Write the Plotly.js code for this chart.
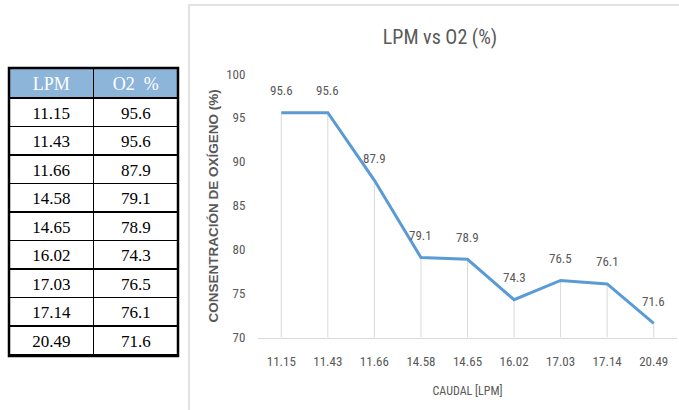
<!DOCTYPE html>
<html>
<head>
<meta charset="utf-8">
<script src="https://cdn.plot.ly/plotly-3.0.1.min.js"></script>
<style>
html,body{margin:0;padding:0;background:#fff;}
#chart{width:679px;height:410px;}
</style>
</head>
<body>
<div id="chart"></div>
<script>
// Data
const lpm = [11.15, 11.43, 11.66, 14.58, 14.65, 16.02, 17.03, 17.14, 20.49];
const o2 = [95.6, 95.6, 87.9, 79.1, 78.9, 74.3, 76.5, 76.1, 71.6];
const tableHeaders = ['LPM', 'O2  %'];
const yBase = 70;

const cats = lpm.map(v => v.toFixed(2));
const chartFont = 'Liberation Sans Narrow, Roboto Condensed, Arial Narrow, Liberation Sans, sans-serif';
const gray = '#595959';

const W = 679, H = 410;
const px = v => v / W;
const py = v => 1 - v / H;

const lineTrace = {
  type: 'scatter',
  mode: 'lines',
  x: cats,
  y: o2,
  line: {color: '#5b9bd5', width: 3},
  error_y: {
    type: 'data',
    symmetric: false,
    array: o2.map(() => 0),
    arrayminus: o2.map(v => v - yBase),
    color: '#d9d9d9',
    thickness: 1,
    width: 0
  },
  hoverinfo: 'x+y',
  showlegend: false,
  xaxis: 'x', yaxis: 'y'
};

const tableTrace = {
  type: 'table',
  domain: {x: [px(9), px(178)], y: [py(356), py(68)]},
  columnwidth: [1, 1],
  header: {
    values: tableHeaders,
    fill: {color: '#8db4d9'},
    line: {color: '#000', width: 1.5},
    font: {family: 'Liberation Serif, Times New Roman, serif', size: 18, color: '#ffffff'},
    align: 'center',
    height: 30
  },
  cells: {
    values: [lpm, o2],
    format: ['.2f', '.1f'],
    fill: {color: '#ffffff'},
    line: {color: '#000', width: 1.5},
    font: {family: 'Liberation Serif, Times New Roman, serif', size: 17, color: '#000'},
    align: 'center',
    height: 28.5
  }
};

const annotations = o2.map((v, i) => ({
  x: i, y: v, xref: 'x', yref: 'y',
  text: v.toFixed(1),
  showarrow: false,
  xanchor: 'center', yanchor: 'middle',
  yshift: 22,
  font: {family: chartFont, size: 13, color: gray}
}));

const layout = {
  width: W, height: H,
  margin: {l: 0, r: 0, t: 0, b: 0},
  paper_bgcolor: '#ffffff',
  plot_bgcolor: '#ffffff',
  font: {family: chartFont, color: gray},
  title: {
    text: 'LPM vs O2 (%)',
    x: px(440), xref: 'paper', xanchor: 'center',
    y: py(37), yref: 'paper', yanchor: 'middle',
    font: {family: chartFont, size: 20, color: gray}
  },
  xaxis: {
    type: 'category',
    domain: [px(258), px(677)],
    range: [-0.5, 8.5],
    showgrid: false,
    zeroline: false,
    showline: true,
    linecolor: '#d9d9d9',
    linewidth: 1,
    ticks: 'outside',
    ticklen: 12,
    tickcolor: 'rgba(0,0,0,0)',
    tickfont: {family: chartFont, size: 13, color: gray},
    title: {text: 'CAUDAL [LPM]', font: {family: chartFont, size: 12, color: gray}, standoff: 18},
    automargin: false,
    fixedrange: true
  },
  yaxis: {
    domain: [py(337.5), py(74)],
    range: [70, 100],
    dtick: 5,
    showgrid: false,
    zeroline: false,
    showline: false,
    ticks: 'outside',
    ticklen: 9,
    tickcolor: 'rgba(0,0,0,0)',
    tickfont: {family: chartFont, size: 13, color: gray},
    title: {text: '<b>CONSENTRACIÓN DE OXÍGENO (%)</b>', font: {family: 'Liberation Sans, Arial, sans-serif', size: 13.5, color: gray}, standoff: 4},
    automargin: false,
    fixedrange: true
  },
  annotations: annotations,
  shapes: [
    {type: 'rect', xref: 'paper', yref: 'paper', x0: px(189), x1: px(690), y0: py(420), y1: py(5),
     line: {color: '#d9d9d9', width: 1.5}, fillcolor: 'rgba(0,0,0,0)', layer: 'below'},
    {type: 'rect', xref: 'paper', yref: 'paper', x0: px(9), x1: px(178), y0: py(356), y1: py(68),
     line: {color: '#000', width: 2.5}, fillcolor: 'rgba(0,0,0,0)', layer: 'above'}
  ]
};

Plotly.newPlot('chart', [tableTrace, lineTrace], layout, {displayModeBar: false, staticPlot: true});
</script>
</body>
</html>
